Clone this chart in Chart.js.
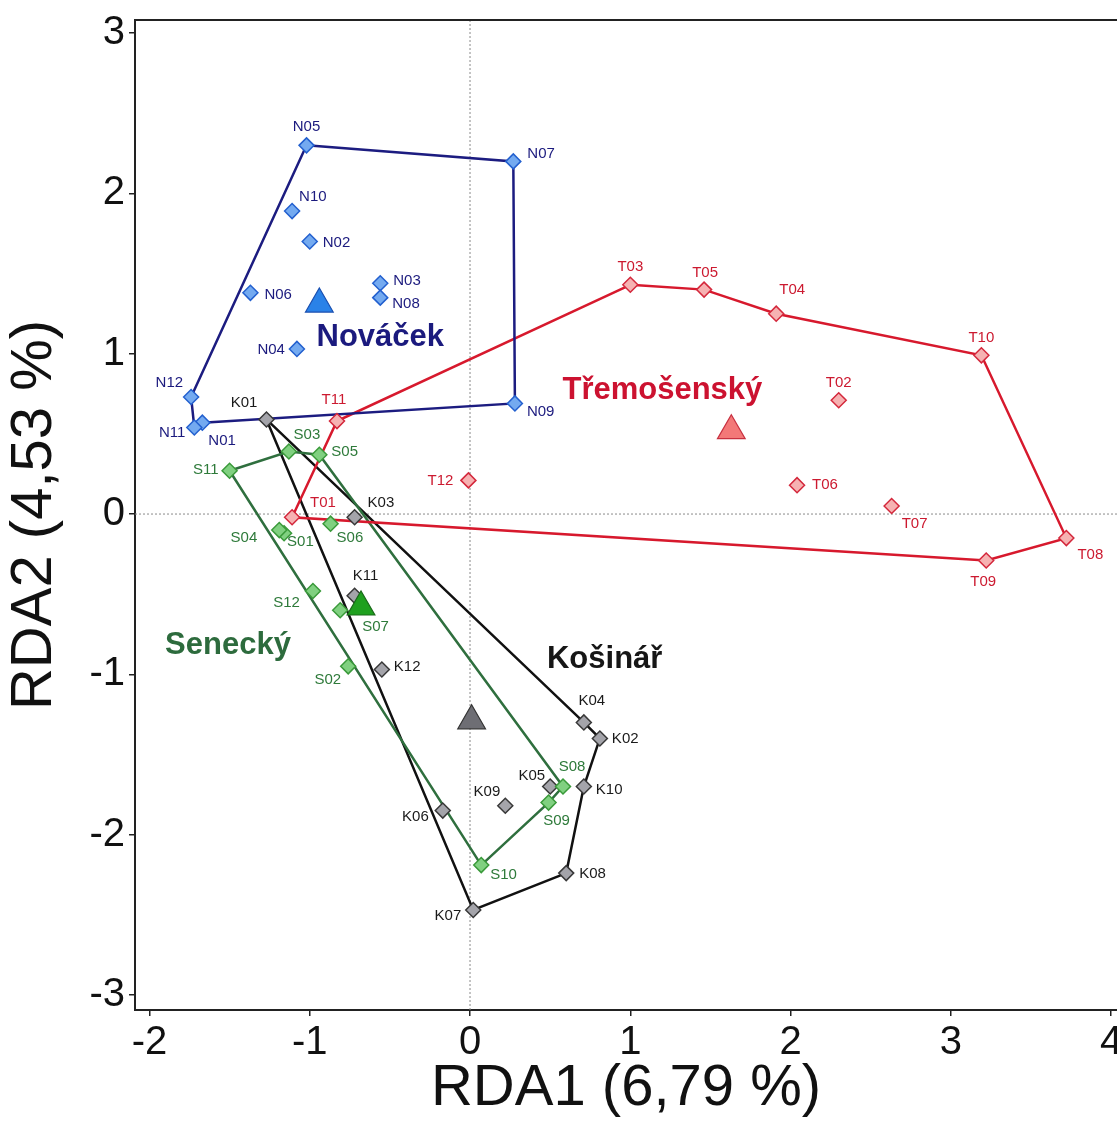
<!DOCTYPE html>
<html>
<head>
<meta charset="utf-8">
<title>RDA – sites by locality</title>
<script src="https://cdn.jsdelivr.net/npm/chart.js@4.4.0/dist/chart.umd.min.js"></script>
<style>
  html, body { margin: 0; padding: 0; background: #fff; }
  canvas { display: block; }
</style>
</head>
<body>
<canvas id="rdaChart" width="1117" height="1124"></canvas>
<script>
// site scores on RDA1 / RDA2, one set of arrays per locality
const novacekNames = ['N01', 'N02', 'N03', 'N04', 'N05', 'N06', 'N07', 'N08', 'N09', 'N10', 'N11', 'N12'];
const novacekX = [-1.67, -1.00, -0.56, -1.08, -1.02, -1.37, 0.27, -0.56, 0.28, -1.11, -1.72, -1.74];
const novacekY = [0.57, 1.70, 1.44, 1.03, 2.30, 1.38, 2.20, 1.35, 0.69, 1.89, 0.54, 0.73];
const novacekHull = ['N05', 'N07', 'N09', 'N01', 'N11', 'N12', 'N05'];
const novacekCentroid = [-0.94, 1.31];

const tremosNames = ['T01', 'T02', 'T03', 'T04', 'T05', 'T06', 'T07', 'T08', 'T09', 'T10', 'T11', 'T12'];
const tremosX = [-1.11, 2.30, 1.00, 1.91, 1.46, 2.04, 2.63, 3.72, 3.22, 3.19, -0.83, -0.01];
const tremosY = [-0.02, 0.71, 1.43, 1.25, 1.40, 0.18, 0.05, -0.15, -0.29, 0.99, 0.58, 0.21];
const tremosHull = ['T03', 'T05', 'T04', 'T10', 'T08', 'T09', 'T01', 'T11', 'T03'];
const tremosCentroid = [1.63, 0.52];

const seneckyNames = ['S01', 'S02', 'S03', 'S04', 'S05', 'S06', 'S07', 'S08', 'S09', 'S10', 'S11', 'S12'];
const seneckyX = [-1.16, -0.76, -1.13, -1.19, -0.94, -0.87, -0.81, 0.58, 0.49, 0.07, -1.50, -0.98];
const seneckyY = [-0.12, -0.95, 0.39, -0.10, 0.37, -0.06, -0.60, -1.70, -1.80, -2.19, 0.27, -0.48];
const seneckyHull = ['S11', 'S03', 'S05', 'S08', 'S09', 'S10', 'S11'];
const seneckyCentroid = [-0.68, -0.58];

const kosinarNames = ['K01', 'K02', 'K03', 'K04', 'K05', 'K06', 'K07', 'K08', 'K09', 'K10', 'K11', 'K12'];
const kosinarX = [-1.27, 0.81, -0.72, 0.71, 0.50, -0.17, 0.02, 0.60, 0.22, 0.71, -0.72, -0.55];
const kosinarY = [0.59, -1.40, -0.02, -1.30, -1.70, -1.85, -2.47, -2.24, -1.82, -1.70, -0.51, -0.97];
const kosinarHull = ['K01', 'K04', 'K02', 'K10', 'K08', 'K07', 'K01'];
const kosinarCentroid = [0.01, -1.29];

const xTitle = 'RDA1 (6,79 %)';
const yTitle = 'RDA2 (4,53 %)';

// where each locality name is written (axis units)
const groupTitles = [
  { text: 'Nováček', x: -0.56, y: 1.10, color: '#1b1a7e' },
  { text: 'Třemošenský', x: 1.20, y: 0.77, color: '#cc1230' },
  { text: 'Senecký', x: -1.51, y: -0.82, color: '#2d6b3d' },
  { text: 'Košinář', x: 0.84, y: -0.91, color: '#161616' }
];

// site code placement: [dx, dy, textAlign] in pixels from the marker
const labelPlacement = {
  N01: [6, 18, 'left'], N02: [13, 1, 'left'], N03: [13, -2, 'left'], N04: [-12, 1, 'right'],
  N05: [0, -18, 'center'], N06: [14, 2, 'left'], N07: [14, -8, 'left'], N08: [12, 6, 'left'],
  N09: [12, 8, 'left'], N10: [7, -14, 'left'], N11: [-9, 5, 'right'], N12: [-8, -14, 'right'],
  T01: [18, -14, 'left'], T02: [0, -17, 'center'], T03: [0, -18, 'center'], T04: [16, -24, 'center'],
  T05: [1, -17, 'center'], T06: [15, 0, 'left'], T07: [23, 18, 'center'], T08: [24, 17, 'center'],
  T09: [-3, 21, 'center'], T10: [0, -17, 'center'], T11: [-3, -21, 'center'], T12: [-15, 0, 'right'],
  S01: [3, 9, 'left'], S02: [-7, 14, 'right'], S03: [18, -17, 'center'], S04: [-22, 8, 'right'],
  S05: [12, -3, 'left'], S06: [6, 14, 'left'], S07: [22, 17, 'left'], S08: [9, -20, 'center'],
  S09: [8, 18, 'center'], S10: [9, 10, 'left'], S11: [-11, -1, 'right'], S12: [-13, 12, 'right'],
  K01: [-9, -17, 'right'], K02: [12, 0, 'left'], K03: [13, -14, 'left'], K04: [8, -22, 'center'],
  K05: [-5, -11, 'right'], K06: [-14, 6, 'right'], K07: [-12, 6, 'right'], K08: [13, 1, 'left'],
  K09: [-5, -14, 'right'], K10: [12, 3, 'left'], K11: [11, -20, 'center'], K12: [12, -3, 'left']
};

Chart.defaults.font.family = "'Liberation Sans', Arial, Helvetica, sans-serif";
Chart.defaults.color = '#111';

const toPoints = (names, xs, ys) => names.map((n, i) => ({ x: xs[i], y: ys[i], name: n }));
const hullPoints = (order, names, xs, ys) => order.map(n => {
  const i = names.indexOf(n);
  return { x: xs[i], y: ys[i] };
});

function groupDatasets(names, xs, ys, hull, centroid, st) {
  return [
    {
      data: hullPoints(hull, names, xs, ys),
      showLine: true,
      borderColor: st.line,
      borderWidth: 2.5,
      pointRadius: 0,
      tension: 0,
      order: 3
    },
    {
      data: toPoints(names, xs, ys),
      pointStyle: 'rectRot',
      pointRadius: 7.5,
      backgroundColor: st.fill,
      borderColor: st.edge,
      borderWidth: 1.5,
      labelColor: st.text,
      order: 2
    },
    {
      data: [{ x: centroid[0], y: centroid[1] }],
      pointStyle: 'triangle',
      pointRadius: 16,
      backgroundColor: st.tri,
      borderColor: st.triEdge,
      borderWidth: 1.2,
      order: 1
    }
  ];
}

const datasets = [
  ...groupDatasets(novacekNames, novacekX, novacekY, novacekHull, novacekCentroid,
    { line: '#1c1c80', fill: '#74aaf0', edge: '#2360cf', text: '#1b1a7e', tri: '#2a82e8', triEdge: '#1a4fb0' }),
  ...groupDatasets(tremosNames, tremosX, tremosY, tremosHull, tremosCentroid,
    { line: '#d7192d', fill: '#f6b2b2', edge: '#d4283c', text: '#cc1a30', tri: '#f37878', triEdge: '#c83040' }),
  ...groupDatasets(seneckyNames, seneckyX, seneckyY, seneckyHull, seneckyCentroid,
    { line: '#2f6f3e', fill: '#80d080', edge: '#3a9a3a', text: '#2e7a3a', tri: '#1fa01f', triEdge: '#1a6a1a' }),
  ...groupDatasets(kosinarNames, kosinarX, kosinarY, kosinarHull, kosinarCentroid,
    { line: '#111111', fill: '#a4a4aa', edge: '#383838', text: '#1a1a1a', tri: '#6e6e74', triEdge: '#333333' })
];

// zero lines, top frame, site codes and locality names
const decorations = {
  id: 'decorations',
  beforeDatasetsDraw(chart) {
    const { ctx, chartArea: a, scales: { x, y } } = chart;
    const x0 = x.getPixelForValue(0);
    const y0 = y.getPixelForValue(0);
    ctx.save();
    ctx.strokeStyle = '#8a8a8a';
    ctx.lineWidth = 1;
    ctx.setLineDash([2, 2]);
    ctx.beginPath();
    ctx.moveTo(x0, a.top); ctx.lineTo(x0, a.bottom);
    ctx.moveTo(a.left, y0); ctx.lineTo(a.right, y0);
    ctx.stroke();
    ctx.setLineDash([]);
    ctx.strokeStyle = '#222';
    ctx.lineWidth = 2;
    ctx.beginPath();
    ctx.moveTo(a.left, a.top); ctx.lineTo(a.right, a.top);
    ctx.stroke();
    ctx.restore();
  },
  afterDatasetsDraw(chart) {
    const { ctx, scales: { x, y } } = chart;
    ctx.save();
    ctx.textBaseline = 'middle';
    ctx.font = "15px 'Liberation Sans', Arial, sans-serif";
    chart.data.datasets.forEach((ds, di) => {
      if (!ds.labelColor) return;
      const meta = chart.getDatasetMeta(di);
      ctx.fillStyle = ds.labelColor;
      meta.data.forEach((el, i) => {
        const name = ds.data[i].name;
        const [dx, dy, align] = labelPlacement[name];
        ctx.textAlign = align;
        ctx.fillText(name, el.x + dx, el.y + dy);
      });
    });
    ctx.font = "bold 31px 'Liberation Sans', Arial, sans-serif";
    ctx.textAlign = 'center';
    groupTitles.forEach(g => {
      ctx.fillStyle = g.color;
      ctx.fillText(g.text, x.getPixelForValue(g.x), y.getPixelForValue(g.y));
    });
    ctx.restore();
  }
};

new Chart(document.getElementById('rdaChart'), {
  type: 'scatter',
  data: { datasets },
  options: {
    responsive: false,
    animation: false,
    layout: { autoPadding: false, padding: { top: 20, right: 0, bottom: 0, left: 0 } },
    plugins: {
      legend: { display: false },
      tooltip: { enabled: false }
    },
    scales: {
      x: {
        type: 'linear',
        min: -2.09,
        max: 4.036,
        ticks: { stepSize: 1, includeBounds: false, font: { size: 40 }, color: '#111', padding: 3, maxRotation: 0 },
        grid: { drawOnChartArea: false, tickLength: 6, color: '#222', lineWidth: 1.5 },
        border: { color: '#222', width: 2 },
        title: { display: true, text: xTitle, font: { size: 58 }, color: '#111', padding: 0 },
        afterFit(scale) {
          scale.height = 114;
          scale.paddingLeft = 0;
          scale.paddingRight = 0;
        }
      },
      y: {
        type: 'linear',
        min: -3.094,
        max: 3.082,
        ticks: { stepSize: 1, includeBounds: false, font: { size: 40 }, color: '#111', padding: 4 },
        grid: { drawOnChartArea: false, tickLength: 6, color: '#222', lineWidth: 1.5 },
        border: { color: '#222', width: 2 },
        title: { display: true, text: yTitle, font: { size: 58 }, color: '#111', padding: 0 },
        afterFit(scale) {
          scale.width = 135;
          scale.paddingTop = 0;
          scale.paddingBottom = 0;
        }
      }
    }
  },
  plugins: [decorations]
});
</script>
</body>
</html>
